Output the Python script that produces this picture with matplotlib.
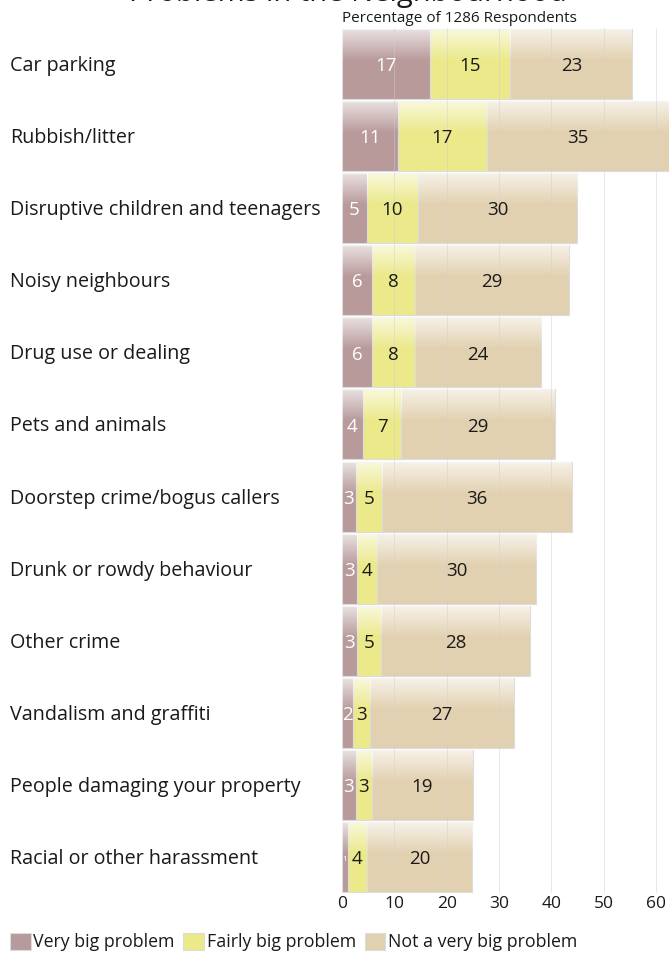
import matplotlib
matplotlib.use("Agg")
import matplotlib.pyplot as plt
import numpy as np

plt.rcParams['font.family'] = ['Open Sans', 'DejaVu Sans']

categories = [
    "Car parking",
    "Rubbish/litter",
    "Disruptive children and teenagers",
    "Noisy neighbours",
    "Drug use or dealing",
    "Pets and animals",
    "Doorstep crime/bogus callers",
    "Drunk or rowdy behaviour",
    "Other crime",
    "Vandalism and graffiti",
    "People damaging your property",
    "Racial or other harassment",
]
very_big = [16.8, 10.7, 4.8, 5.7, 5.7, 4.0, 2.6, 2.9, 2.9, 2.1, 2.6, 1.1]
fairly_big = [15.4, 17.0, 9.7, 8.2, 8.2, 7.3, 5.1, 3.8, 4.6, 3.3, 3.1, 3.6]
not_very_big = [23.3, 34.8, 30.4, 29.4, 24.2, 29.4, 36.3, 30.4, 28.4, 27.4, 19.3, 20.2]
series_names = ["Very big problem", "Fairly big problem", "Not a very big problem"]
series_colors = ["#b89a9b", "#ebe98a", "#e2d1b1"]
label_colors = ["white", "#1a1a1a", "#1a1a1a"]
x_ticks = [0, 10, 20, 30, 40, 50, 60]

W, H = 669, 955
fig = plt.figure(figsize=(W / 100, H / 100), dpi=100)
ax = fig.add_axes([342 / W, 1 - 893 / H, 1 - 342 / W, (893 - 28) / H])

y = np.arange(len(categories))
bar_h = 0.97
left = np.zeros(len(categories))

# white-to-transparent sheen across the upper part of each bar
grad = np.zeros((100, 1, 4))
grad[..., :3] = 1.0
t = np.linspace(0, 1, 100)
grad[:, 0, 3] = np.clip(0.7 * (1 - t / 0.45), 0, None)

for vals, name, col, lc in zip([very_big, fairly_big, not_very_big],
                               series_names, series_colors, label_colors):
    bars = ax.barh(y, vals, left=left, height=bar_h, color=col,
                   edgecolor="#dcdcdc", linewidth=0.8, label=name, zorder=2)
    for b, v in zip(bars, vals):
        x0, y0 = b.get_x(), b.get_y()
        w, h = b.get_width(), b.get_height()
        im = ax.imshow(grad, extent=(x0, x0 + w, y0 + h, y0), aspect="auto",
                       zorder=2.5, interpolation="bilinear")
        im.set_clip_path(b)
        fs = 13.5 if v >= 1.5 else 6
        ax.text(x0 + w / 2, y0 + h / 2 + 0.03, f"{v:.0f}", ha="center",
                va="center", color=lc, fontsize=fs, zorder=4)
    left = left + np.array(vals)

ax.set_xlim(0, 62.5)
ax.set_ylim(len(categories) - 0.5, -0.5)
ax.set_xticks(x_ticks)
ax.set_xticklabels([str(v) for v in x_ticks], fontsize=12.5, color="#1a1a1a")
ax.tick_params(axis="x", length=0, pad=2)
ax.set_yticks([])
for s in ax.spines.values():
    s.set_visible(False)
for xv in x_ticks[1:]:
    ax.axvline(xv, color="#cfcfcf", linewidth=0.7, alpha=0.45, zorder=3)

row_px = (893 - 28) / len(categories)
for yi, cat in zip(y, categories):
    fig.text(10 / W, 1 - (30 + (yi + 0.5) * row_px) / H, cat,
             ha="left", va="center", fontsize=14.2, color="#1a1a1a")

fig.text(348 / W, 1 - 1 / H, "Problems in the Neighbourhood", ha="center",
         va="baseline", fontsize=21, color="#1a1a1a")
fig.text(342 / W, 1 - 18 / H, "Percentage of 1286 Respondents",
         ha="left", va="center", fontsize=11, color="#1a1a1a")

# legend row along the bottom
handles, labels = ax.get_legend_handles_labels()
leg = fig.legend(handles, labels, loc="center left",
                 bbox_to_anchor=(3 / W, 1 - 942 / H), ncol=3, frameon=False,
                 fontsize=12.8, handlelength=1.15, handleheight=1.15,
                 handletextpad=0.15, columnspacing=0.5, borderaxespad=0)
for txt in leg.get_texts():
    txt.set_color("#1a1a1a")

fig.savefig("out.png", dpi=100)
